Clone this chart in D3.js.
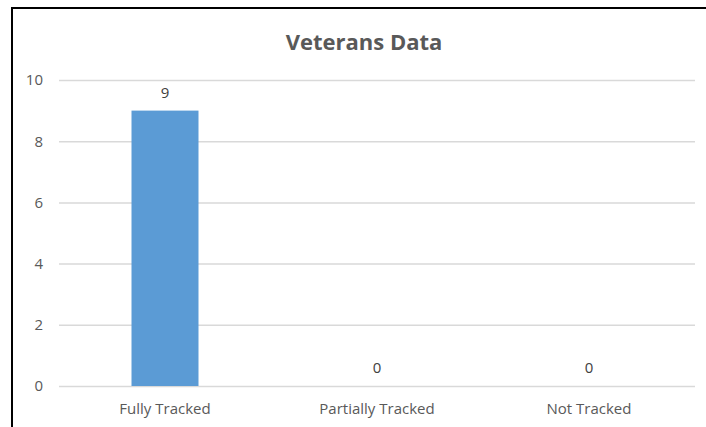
<!DOCTYPE html>
<html>
<head>
<meta charset="utf-8">
<script src="https://cdn.jsdelivr.net/npm/d3@7"></script>
<style>
  html, body { margin: 0; padding: 0; background: #fff; }
  svg { display: block; font-family: "Open Sans", "Noto Sans", sans-serif; }
</style>
</head>
<body>
<svg id="chart" width="706" height="427"></svg>
<script>
// Chart data
const categories = ["Fully Tracked", "Partially Tracked", "Not Tracked"];
const values = [9, 0, 0];
const yTicks = [0, 2, 4, 6, 8, 10];
const title = "Veterans Data";

const svg = d3.select("#chart");
const W = 706, H = 427;
const plot = { left: 59, right: 695, top: 80, bottom: 386 };
const labelFont = "15px";

// Outer frame (left and top edges visible)
svg.append("path")
  .attr("d", `M12,${H} L12,8 L${W + 2},8`)
  .attr("fill", "none")
  .attr("stroke", "#000")
  .attr("stroke-width", 2);

const x = d3.scaleBand().domain(categories).range([plot.left, plot.right]).padding(0);
const y = d3.scaleLinear().domain([0, 10]).range([plot.bottom, plot.top]);

// Gridlines
svg.append("g").selectAll("line").data(yTicks).join("line")
  .attr("x1", plot.left).attr("x2", plot.right)
  .attr("y1", d => y(d) + 0.5).attr("y2", d => y(d) + 0.5)
  .attr("stroke", "#d9d9d9").attr("stroke-width", 1.5);

// Y axis labels
const yAxis = d3.axisLeft(y).tickValues(yTicks).tickSize(0).tickPadding(0);
const gy = svg.append("g").attr("transform", `translate(43,0)`).call(yAxis);
gy.select(".domain").remove();
gy.selectAll("text").attr("fill", "#595959").style("font-size", labelFont)
  .style("font-family", "'Open Sans', sans-serif");

// X axis labels
const xAxis = d3.axisBottom(x).tickSize(0).tickPadding(0);
const gx = svg.append("g").attr("transform", `translate(0,${plot.bottom + 17})`).call(xAxis);
gx.select(".domain").remove();
gx.selectAll("text").attr("fill", "#595959").style("font-size", labelFont)
  .style("font-family", "'Open Sans', sans-serif");

// Bars
const barW = x.bandwidth() * 0.316;
svg.append("g").selectAll("rect").data(values).join("rect")
  .attr("x", (d, i) => x(categories[i]) + x.bandwidth() / 2 - barW / 2)
  .attr("y", d => y(d))
  .attr("width", barW)
  .attr("height", d => y(0) - y(d))
  .attr("fill", "#5b9bd5");

// Value labels
svg.append("g").selectAll("text").data(values).join("text")
  .attr("x", (d, i) => x(categories[i]) + x.bandwidth() / 2)
  .attr("y", d => y(d) - 13)
  .attr("text-anchor", "middle")
  .attr("fill", "#404040")
  .style("font-size", labelFont)
  .text(d => d);

// Title
svg.append("text")
  .attr("x", 364).attr("y", 50)
  .attr("text-anchor", "middle")
  .attr("fill", "#595959")
  .style("font-size", "22px")
  .style("font-weight", "bold")
  .text(title);
</script>
</body>
</html>
